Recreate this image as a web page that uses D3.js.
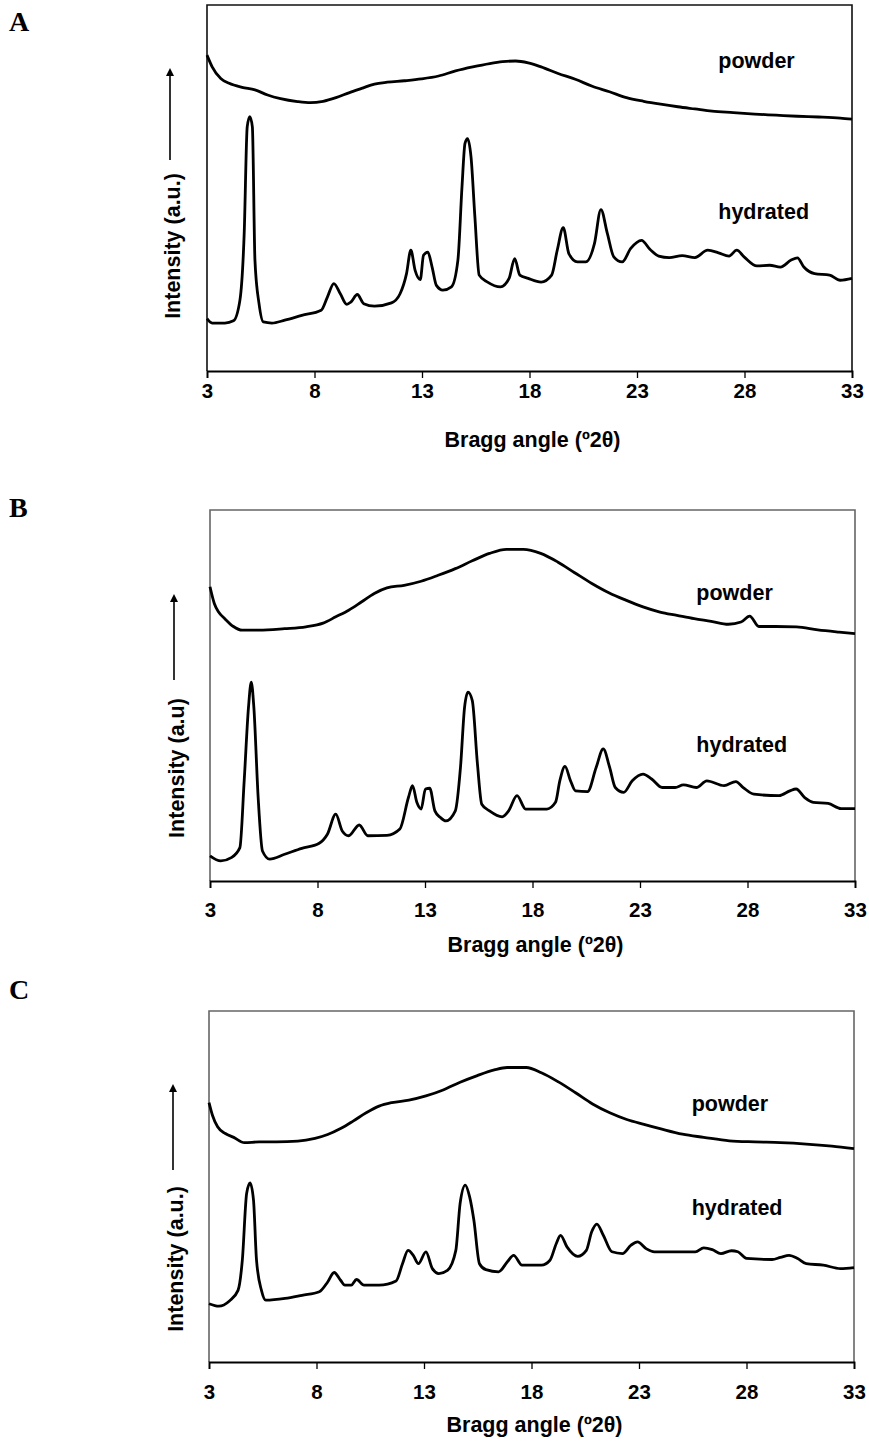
<!DOCTYPE html>
<html>
<head>
<meta charset="utf-8">
<script src="https://cdn.jsdelivr.net/npm/d3@7/dist/d3.min.js"></script>
<style>
  html, body { margin: 0; padding: 0; background: #fff; }
  svg { display: block; }
  text { font-family: "Liberation Sans", Arial, sans-serif; font-weight: bold; fill: #000; }
  .letter { font-family: "Liberation Serif", "Times New Roman", serif; }
</style>
</head>
<body>
<svg id="fig" width="869" height="1452"></svg>
<script>
// X-ray powder diffraction patterns: [Bragg angle (°2θ), relative intensity]
const xTicks = [3, 8, 13, 18, 23, 28, 33];
const seriesNames = ["powder", "hydrated"];

const powderA = [
  [3.0, 86.3], [3.24, 83.1], [3.64, 79.9], [4.03, 78.6], [4.63, 77.5], [5.23, 76.8],
  [5.82, 75.4], [6.42, 74.4], [7.21, 73.6], [7.81, 73.3], [8.40, 73.7], [9.0, 74.7],
  [9.6, 76.0], [10.19, 77.2], [10.79, 78.4], [11.38, 78.9], [12.18, 79.3], [12.97, 79.8],
  [13.77, 80.6], [14.56, 82.0], [15.36, 83.1], [16.15, 84.0], [16.75, 84.5], [17.35, 84.7],
  [17.94, 84.2], [18.54, 83.1], [19.33, 81.3], [20.13, 79.7], [20.92, 77.8], [21.72, 76.3],
  [22.51, 74.7], [23.31, 73.7], [24.10, 72.9], [24.90, 72.2], [25.69, 71.6], [26.49, 71.0],
  [27.48, 70.6], [28.47, 70.2], [29.47, 69.9], [30.46, 69.6], [31.45, 69.4], [32.45, 69.1],
  [33.0, 68.8]
];
const hydratedA = [
  [3.0, 14.3], [3.24, 13.1], [3.83, 13.1], [4.23, 13.7], [4.53, 19.3], [4.73, 37.6],
  [4.87, 66.7], [4.99, 69.5], [5.11, 66.7], [5.23, 30.3], [5.42, 18.4], [5.62, 13.4],
  [6.02, 13.1], [6.62, 13.9], [7.41, 15.2], [8.31, 16.6], [8.60, 20.2], [8.90, 23.9],
  [9.20, 21.1], [9.50, 18.2], [9.70, 18.9], [9.99, 20.9], [10.29, 18.4], [10.79, 17.7],
  [11.58, 18.6], [11.98, 21.1], [12.28, 26.6], [12.48, 33.0], [12.68, 27.5], [12.92, 25.0],
  [13.07, 31.6], [13.27, 32.5], [13.47, 28.4], [13.67, 23.4], [13.97, 22.1], [14.37, 23.0],
  [14.67, 30.3], [14.86, 50.3], [15.00, 62.2], [15.12, 63.5], [15.28, 58.5], [15.46, 42.1],
  [15.66, 26.2], [16.05, 24.3], [16.65, 23.0], [17.05, 25.3], [17.31, 30.7], [17.55, 26.2],
  [17.94, 25.3], [18.54, 24.3], [19.03, 26.2], [19.29, 33.0], [19.57, 39.2], [19.83, 32.1],
  [20.23, 29.8], [20.62, 29.8], [21.02, 34.8], [21.32, 44.1], [21.62, 37.6], [21.92, 31.2],
  [22.31, 29.8], [22.71, 33.5], [23.21, 35.7], [23.61, 33.2], [24.01, 31.4], [24.50, 31.0],
  [25.10, 31.5], [25.69, 31.0], [26.29, 33.0], [26.79, 32.3], [27.28, 31.4], [27.64, 33.0],
  [27.98, 31.2], [28.58, 28.7], [29.17, 28.9], [29.67, 28.4], [30.17, 30.3], [30.46, 30.9],
  [30.76, 28.4], [31.26, 26.6], [31.96, 26.2], [32.45, 24.8], [33.0, 25.3]
];

const powderB = [
  [3.0, 79.3], [3.20, 74.8], [3.40, 72.5], [3.69, 70.7], [4.09, 68.6], [4.49, 67.6],
  [5.28, 67.6], [6.47, 68.0], [7.46, 68.5], [8.26, 69.5], [8.85, 71.2], [9.45, 73.0],
  [10.04, 75.2], [10.64, 77.5], [11.23, 79.0], [12.03, 79.7], [12.82, 80.8], [13.61, 82.4],
  [14.41, 84.2], [15.20, 86.3], [16.00, 88.3], [16.79, 89.4], [17.58, 89.4], [18.38, 88.3],
  [19.17, 86.0], [19.96, 83.1], [20.76, 80.2], [21.55, 77.7], [22.34, 75.7], [23.14, 73.9],
  [23.93, 72.5], [24.72, 71.6], [25.52, 70.7], [26.31, 70.0], [27.11, 69.2], [27.70, 69.8],
  [28.10, 71.4], [28.53, 68.6], [29.29, 68.6], [30.28, 68.5], [31.27, 67.7], [32.26, 67.1],
  [33.0, 66.7]
];
const hydratedB = [
  [3.0, 6.8], [3.50, 5.4], [3.99, 6.3], [4.39, 9.0], [4.59, 27.0], [4.79, 46.8],
  [4.92, 53.6], [5.04, 46.8], [5.24, 22.5], [5.44, 8.1], [5.78, 5.9], [6.47, 7.2],
  [7.27, 8.8], [8.06, 10.1], [8.46, 12.6], [8.85, 18.0], [9.15, 13.5], [9.45, 12.2],
  [9.94, 15.1], [10.34, 12.2], [11.23, 12.3], [11.83, 14.0], [12.23, 22.5], [12.42, 25.7],
  [12.62, 21.2], [12.82, 19.4], [13.02, 24.8], [13.22, 25.0], [13.46, 18.9], [13.72, 17.1],
  [13.97, 16.2], [14.41, 18.9], [14.65, 30.6], [14.84, 46.8], [15.00, 50.9], [15.20, 48.6],
  [15.44, 31.5], [15.64, 20.7], [16.00, 18.9], [16.59, 17.3], [16.89, 18.9], [17.28, 23.0],
  [17.68, 19.4], [18.18, 19.4], [18.67, 19.4], [19.07, 21.2], [19.27, 27.0], [19.51, 30.9],
  [19.77, 27.0], [20.00, 24.3], [20.56, 24.1], [20.96, 30.6], [21.29, 35.6], [21.59, 30.6],
  [21.85, 25.2], [22.24, 23.9], [22.64, 27.0], [23.14, 28.8], [23.54, 27.5], [24.03, 25.2],
  [24.63, 25.2], [25.02, 25.9], [25.62, 25.2], [26.11, 27.0], [26.91, 25.7], [27.46, 26.8],
  [27.80, 25.2], [28.30, 23.4], [29.47, 23.0], [29.97, 24.3], [30.26, 24.8], [30.66, 22.5],
  [31.06, 21.2], [31.75, 20.9], [32.35, 19.5], [33.0, 19.5]
];

const powderC = [
  [3.0, 73.9], [3.16, 70.3], [3.40, 67.0], [3.76, 65.1], [4.15, 64.0], [4.65, 62.5],
  [5.34, 62.7], [6.14, 62.7], [7.13, 62.9], [7.93, 63.7], [8.52, 64.8], [9.12, 66.5],
  [9.72, 68.7], [10.31, 71.0], [10.91, 72.9], [11.50, 73.9], [12.30, 74.6], [13.09, 75.8],
  [13.89, 77.5], [14.68, 79.7], [15.48, 81.6], [16.27, 83.2], [16.87, 83.9], [17.76, 83.9],
  [18.46, 82.4], [19.25, 79.8], [20.05, 76.7], [20.84, 73.5], [21.64, 71.0], [22.43, 69.1],
  [23.23, 67.7], [24.02, 66.4], [25.02, 64.9], [26.01, 64.0], [27.20, 63.0], [28.39, 62.7],
  [29.58, 62.5], [30.78, 62.1], [31.97, 61.5], [33.0, 60.8]
];
const hydratedC = [
  [3.0, 16.6], [3.46, 15.9], [3.95, 17.4], [4.35, 20.4], [4.55, 29.0], [4.75, 48.0],
  [4.91, 51.0], [5.07, 46.1], [5.21, 29.0], [5.44, 20.4], [5.64, 17.6], [6.54, 18.1],
  [7.33, 19.0], [8.13, 20.0], [8.52, 22.8], [8.82, 25.5], [9.12, 23.3], [9.32, 21.9],
  [9.62, 21.9], [9.86, 23.5], [10.21, 21.9], [10.91, 21.9], [11.70, 23.1], [12.00, 28.0],
  [12.26, 31.8], [12.50, 30.4], [12.74, 28.0], [13.09, 31.4], [13.39, 26.6], [13.69, 25.2],
  [14.09, 26.1], [14.48, 31.8], [14.68, 45.2], [14.92, 50.4], [15.12, 47.1], [15.32, 40.4],
  [15.58, 28.0], [15.88, 26.3], [16.47, 25.7], [16.87, 28.5], [17.17, 30.4], [17.56, 27.6],
  [18.46, 27.6], [18.86, 29.0], [19.15, 33.7], [19.35, 36.1], [19.65, 32.8], [20.15, 30.1],
  [20.55, 31.8], [20.80, 37.1], [21.04, 39.3], [21.34, 36.1], [21.74, 31.4], [22.23, 30.9],
  [22.63, 33.3], [22.93, 34.2], [23.33, 32.3], [23.72, 31.4], [24.82, 31.4], [25.62, 31.4],
  [26.01, 32.5], [26.41, 32.0], [26.81, 30.9], [27.30, 31.7], [27.60, 31.4], [28.00, 29.5],
  [29.19, 29.2], [29.58, 29.8], [29.98, 30.4], [30.38, 29.5], [30.78, 28.0], [31.57, 27.6],
  [32.37, 26.6], [33.0, 26.9]
];

// Panel layout (pixels) and label anchors (data units)
const panels = [
  { letter: "A", letterY: 31, box: { x0: 207, x1: 852, y0: 5, y1: 371 },
    frameColor: "#111", yTitle: "Intensity (a.u.)", yTitleX: 172, yTitleY: 246,
    arrow: [160, 68], tickY: 398, titleY: 447,
    series: [powderA, hydratedA], labelAt: [[26.78, 82.7], [26.78, 41.5]] },
  { letter: "B", letterY: 517, box: { x0: 210, x1: 855, y0: 510, y1: 881 },
    frameColor: "#666", yTitle: "Intensity (a.u)", yTitleX: 176, yTitleY: 768,
    arrow: [680, 594], tickY: 917, titleY: 952,
    series: [powderB, hydratedB], labelAt: [[25.62, 75.8], [25.62, 34.8]] },
  { letter: "C", letterY: 999, box: { x0: 209, x1: 854, y0: 1011, y1: 1362 },
    frameColor: "#666", yTitle: "Intensity (a.u.)", yTitleX: 175, yTitleY: 1259,
    arrow: [1170, 1084], tickY: 1399, titleY: 1432,
    series: [powderC, hydratedC], labelAt: [[25.45, 71.4], [25.45, 41.8]] }
];

const svg = d3.select("#fig");

svg.append("defs").append("marker")
  .attr("id", "arrowhead")
  .attr("viewBox", "0 0 10 10")
  .attr("refX", 5).attr("refY", 5)
  .attr("markerWidth", 8).attr("markerHeight", 8)
  .attr("markerUnits", "userSpaceOnUse")
  .attr("orient", "auto")
  .append("path").attr("d", "M0,0 L10,5 L0,10 Z").attr("fill", "#000");

panels.forEach(p => {
  const b = p.box;
  const x = d3.scaleLinear().domain([3, 33]).range([b.x0, b.x1]);
  const y = d3.scaleLinear().domain([0, 100]).range([b.y1, b.y0]);
  const g = svg.append("g");

  // panel letter
  g.append("text").attr("class", "letter")
    .attr("x", 9).attr("y", p.letterY)
    .attr("font-size", 28).text(p.letter);

  // plot frame (top, left, right)
  g.append("path")
    .attr("d", `M${b.x0},${b.y1} V${b.y0} H${b.x1} V${b.y1}`)
    .attr("fill", "none").attr("stroke", p.frameColor).attr("stroke-width", 1.6);

  // x axis
  const xAxis = d3.axisBottom(x).tickValues(xTicks).tickSize(7).tickPadding(12)
    .tickFormat(d3.format("d"));
  const ax = g.append("g").attr("transform", `translate(0,${b.y1})`).call(xAxis);
  ax.select(".domain").attr("stroke", "#000").attr("stroke-width", 1.8);
  ax.selectAll(".tick line").attr("stroke", "#000").attr("stroke-width", 1.3);
  ax.selectAll(".tick text")
    .attr("font-family", "'Liberation Sans', Arial, sans-serif")
    .attr("font-weight", "bold").attr("font-size", 20.5).attr("fill", "#000")
    .attr("dy", null).attr("y", p.tickY - b.y1);

  // x axis title
  g.append("text")
    .attr("x", (b.x0 + b.x1) / 2 + 3).attr("y", p.titleY)
    .attr("text-anchor", "middle").attr("font-size", 21.5)
    .text("Bragg angle (\u00BA2\u03B8)");

  // y axis title with upward arrow
  g.append("text")
    .attr("transform", `translate(${p.yTitleX + 8},${p.yTitleY}) rotate(-90)`)
    .attr("text-anchor", "middle").attr("font-size", 21.5)
    .text(p.yTitle);
  g.append("line")
    .attr("x1", p.yTitleX - 2).attr("x2", p.yTitleX - 2)
    .attr("y1", p.arrow[0]).attr("y2", p.arrow[1] + 4)
    .attr("stroke", "#000").attr("stroke-width", 1.6)
    .attr("marker-end", "url(#arrowhead)");

  // diffraction traces
  const line = d3.line().curve(d3.curveMonotoneX).x(d => x(d[0])).y(d => y(d[1]));
  p.series.forEach((s, i) => {
    g.append("path").datum(s)
      .attr("d", line)
      .attr("fill", "none").attr("stroke", "#000")
      .attr("stroke-width", 2.8).attr("stroke-linejoin", "round");
    g.append("text")
      .attr("x", x(p.labelAt[i][0])).attr("y", y(p.labelAt[i][1]))
      .attr("font-size", 21.5).text(seriesNames[i]);
  });
});
</script>
</body>
</html>
